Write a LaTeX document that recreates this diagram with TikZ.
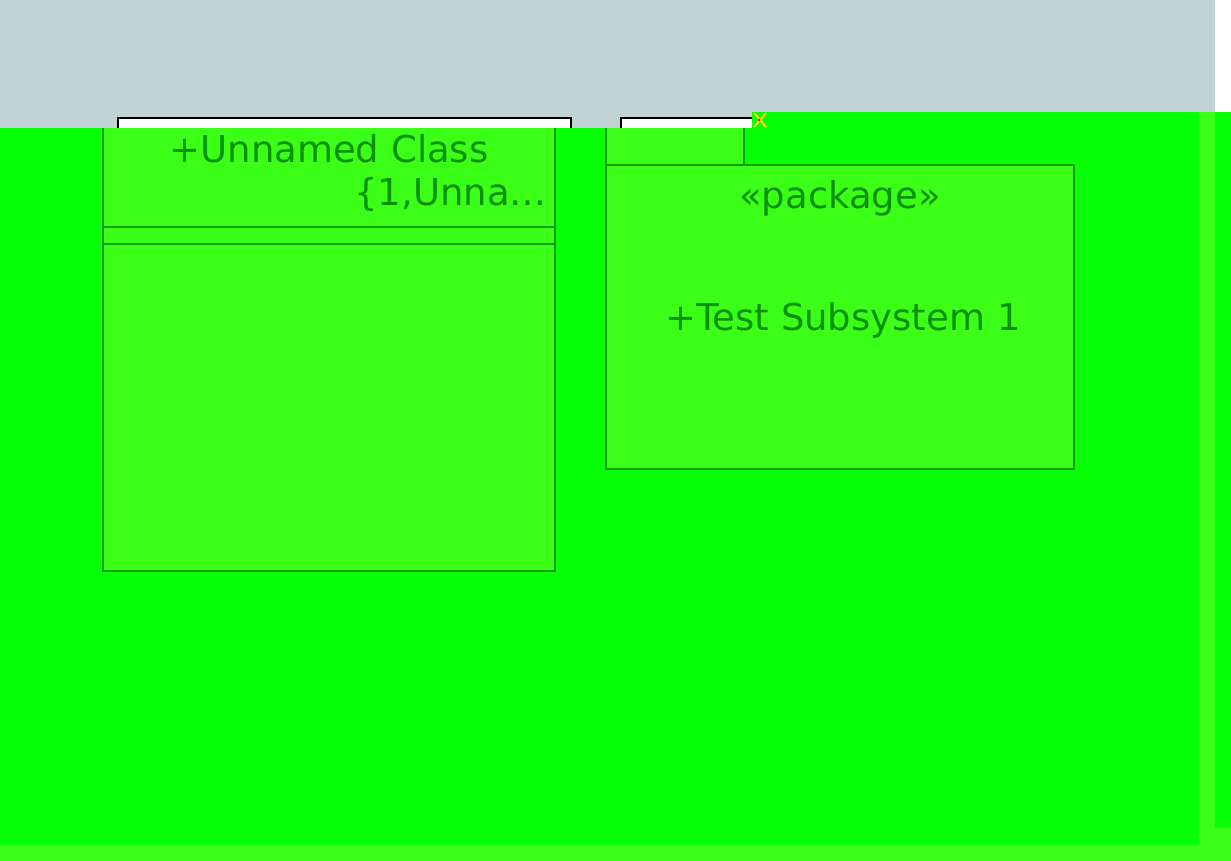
\documentclass[tikz,border=0pt]{standalone}
\usepackage{fontspec}
\setmainfont{DejaVu Sans}
\usetikzlibrary{positioning}
\definecolor{topgray}{HTML}{C1D3D3}
\definecolor{bggreen}{HTML}{07FF07}
\definecolor{boxgreen}{HTML}{3BFF17}
\definecolor{edgegreen}{HTML}{149B14}
\definecolor{textgreen}{HTML}{0A900A}

\begin{document}
\begin{tikzpicture}[
  x=1pt, y=-1pt,
  band/.style={draw=none, inner sep=0pt, outer sep=0pt, anchor=north west},
  umlbox/.style={fill=boxgreen, inner sep=0pt, outer sep=0pt, anchor=north west},
  edge/.style={draw=edgegreen, line width=1.6pt},
  handle/.style={draw=black, fill=white, line width=1.4pt, inner sep=0pt, outer sep=0pt, anchor=north west},
  label/.style={text=textgreen, inner sep=0pt, font=\fontsize{37}{44}\selectfont}
]
\useasboundingbox (0,0) rectangle (1231,861);

% Background bands
\node[band, fill=topgray, minimum width=1215pt, minimum height=128pt] (topband) at (0,0) {};
\node[band, fill=white, minimum width=16pt, minimum height=112pt] (corner) at (1215,0) {};
\node[handle, minimum width=453pt, minimum height=30pt] (classhandle) at (118,118) {};
\node[handle, minimum width=136pt, minimum height=30pt] (pkghandle) at (621,118) {};
\node[band, fill=bggreen, minimum width=1231pt, minimum height=733pt] (canvas) at (0,128) {};
\node[band, fill=bggreen, minimum width=479pt, minimum height=16pt] (canvastop) at (752,112) {};
\node[band, fill=boxgreen, minimum width=16pt, minimum height=733pt] (rightstrip) at (1199,112) {};
\node[band, fill=boxgreen, minimum width=16pt, minimum height=33pt] (cornerstrip) at (1215,828) {};
\node[band, fill=boxgreen, minimum width=1231pt, minimum height=16pt] (bottomstrip) at (0,845) {};
\draw[yellow!80!orange, line width=2pt] (754,113) -- (766,127) (766,113) -- (754,127);
\fill[red] (759,120) circle (1.5);

% Class box
\node[umlbox, minimum width=452pt, minimum height=443pt] (classbox) at (103,128) {};
\draw[edge] (classbox.north west) -- (classbox.south west) -- (classbox.south east) -- (classbox.north east);
\draw[edge] (103,227) -- (555,227) (103,244) -- (555,244);
\node[label] (classname) at (329,149) {+Unnamed Class};
\node[label, anchor=east] (classtag) at (547,194) {\{1,Unna…};

% Package
\node[umlbox, minimum width=138pt, minimum height=37pt] (pkgtab) at (606,128) {};
\draw[edge] (pkgtab.north west) -- (pkgtab.south west) (pkgtab.north east) -- (pkgtab.south east);
\node[umlbox, minimum width=468pt, minimum height=304pt] (pkgbody) at (606,165) {};
\draw[edge] (pkgbody.north west) rectangle (pkgbody.south east);
\node[label] (stereo) at (840,198) {«package»};
\node[label] (pkgname) at (843,320) {+Test Subsystem 1};
\end{tikzpicture}
\end{document}
